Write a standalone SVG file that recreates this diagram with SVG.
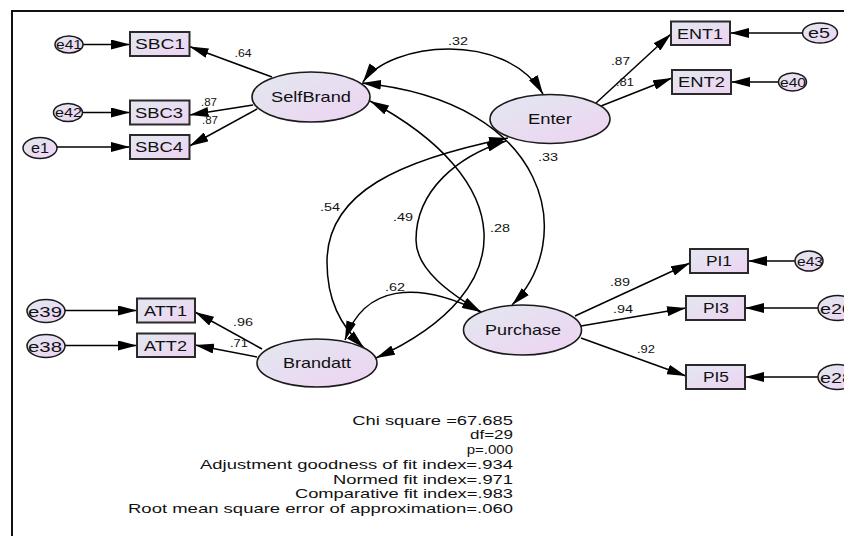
<svg xmlns="http://www.w3.org/2000/svg" width="844" height="536" viewBox="0 0 844 536">
  <defs>
    <linearGradient id="fillGrad" x1="0" y1="0" x2="1" y2="1">
      <stop offset="0" stop-color="#e2e8f0"/>
      <stop offset="1" stop-color="#eed3f2"/>
    </linearGradient>
    <marker id="arr" viewBox="0 0 19 10" refX="19" refY="5" markerWidth="19" markerHeight="10" markerUnits="userSpaceOnUse" orient="auto-start-reverse">
      <path d="M0,0 L19,5 L0,10 Z" fill="#000"/>
    </marker>
    <style>
      .latent { fill: url(#fillGrad); stroke: #1a1a1a; stroke-width: 1.6; }
      .obs { fill: url(#fillGrad); stroke: #2a2a2a; stroke-width: 2; }
      .err { fill: url(#fillGrad); stroke: #1a1a1a; stroke-width: 1.5; }
      .edge line, .edge path { fill: none; stroke: #000; stroke-width: 1.5; }
      .one { marker-end: url(#arr); }
      .two { marker-start: url(#arr); marker-end: url(#arr); }
      text { font-family: "Liberation Sans", Arial, sans-serif; fill: #111; }
      .nname { font-size: 14.5px; }
      .bname { font-size: 14px; }
      .coef { font-size: 11px; }
      .fit { font-size: 13.5px; }
      .frame { stroke: #111; stroke-width: 2; fill: none; }
    </style>
  </defs>

  <rect width="844" height="536" fill="#fff"/>
  <!-- frame: top and left edges -->
  <path class="frame" d="M12,536 L12,11 L844,11"/>

  <!-- connectors -->
  <g id="connectors" class="edge">
    <!-- error terms to indicators -->
    <line class="one" x1="83" y1="44.5" x2="130" y2="44.5"/>
    <line class="one" x1="82.5" y1="112.5" x2="130" y2="112.5"/>
    <line class="one" x1="57" y1="147" x2="130" y2="147"/>
    <line class="one" x1="802.5" y1="33" x2="730" y2="33"/>
    <line class="one" x1="778.5" y1="82" x2="731" y2="82"/>
    <line class="one" x1="65" y1="310.5" x2="137" y2="310.5"/>
    <line class="one" x1="65" y1="345.5" x2="137" y2="345.5"/>
    <line class="one" x1="795" y1="261" x2="748" y2="261"/>
    <line class="one" x1="818" y1="308" x2="745" y2="308"/>
    <line class="one" x1="818" y1="377" x2="745" y2="377"/>
    <!-- factor loadings -->
    <line class="one" x1="272" y1="77" x2="189.5" y2="46.5"/>
    <line class="one" x1="253" y1="105" x2="189.5" y2="115"/>
    <line class="one" x1="257" y1="109" x2="189.5" y2="146"/>
    <line class="one" x1="596" y1="103" x2="671" y2="34"/>
    <line class="one" x1="601" y1="106" x2="672" y2="78"/>
    <line class="one" x1="262" y1="349" x2="195" y2="312"/>
    <line class="one" x1="257" y1="357" x2="195" y2="345"/>
    <line class="one" x1="575" y1="316" x2="690" y2="263"/>
    <line class="one" x1="581" y1="326" x2="686" y2="308"/>
    <line class="one" x1="581" y1="338" x2="686" y2="376"/>
    <!-- covariances -->
    <path class="two" d="M363,82 C390,42 505,30 543,94"/>
    <path class="two" d="M362,83 C552,102 577,240 512,305"/>
    <path class="two" d="M370,101 C515,178.6 527,289 376,358"/>
    <path class="two" d="M508,138 C400,160 327,192 327,262 C327,300 340,325 364,348"/>
    <path class="two" d="M506,141 C458,156 416,190 416,240 C416,270 451,294 481,312"/>
    <path class="two" d="M481,312 C417,280 364,285 345,340"/>
  </g>

  <!-- coefficients -->
  <g id="coefficients">
    <text class="coef" x="234.5" y="56.5" textLength="17" lengthAdjust="spacingAndGlyphs">.64</text>
    <text class="coef" x="201" y="105.5" textLength="16" lengthAdjust="spacingAndGlyphs">.87</text>
    <text class="coef" x="202" y="124" textLength="16" lengthAdjust="spacingAndGlyphs">.87</text>
    <text class="coef" x="448" y="44.5" textLength="20" lengthAdjust="spacingAndGlyphs">.32</text>
    <text class="coef" x="611" y="64.5" textLength="19" lengthAdjust="spacingAndGlyphs">.87</text>
    <text class="coef" x="616" y="85.5" textLength="18" lengthAdjust="spacingAndGlyphs">.81</text>
    <text class="coef" x="538" y="160.5" textLength="20" lengthAdjust="spacingAndGlyphs">.33</text>
    <text class="coef" x="320" y="210.5" textLength="20" lengthAdjust="spacingAndGlyphs">.54</text>
    <text class="coef" x="393" y="220.5" textLength="20" lengthAdjust="spacingAndGlyphs">.49</text>
    <text class="coef" x="490" y="231.5" textLength="20" lengthAdjust="spacingAndGlyphs">.28</text>
    <text class="coef" x="385" y="291" textLength="20" lengthAdjust="spacingAndGlyphs">.62</text>
    <text class="coef" x="233" y="325.5" textLength="20" lengthAdjust="spacingAndGlyphs">.96</text>
    <text class="coef" x="230" y="346.5" textLength="18" lengthAdjust="spacingAndGlyphs">.71</text>
    <text class="coef" x="610" y="285.5" textLength="20" lengthAdjust="spacingAndGlyphs">.89</text>
    <text class="coef" x="613" y="312.5" textLength="20" lengthAdjust="spacingAndGlyphs">.94</text>
    <text class="coef" x="637" y="352.5" textLength="18" lengthAdjust="spacingAndGlyphs">.92</text>
  </g>

  <!-- latent variables -->
  <g id="SelfBrand">
    <ellipse class="latent" cx="311" cy="97" rx="59" ry="25"/>
    <text class="nname" x="271" y="102" textLength="80" lengthAdjust="spacingAndGlyphs">SelfBrand</text>
  </g>
  <g id="Enter">
    <ellipse class="latent" cx="550" cy="119" rx="60" ry="24.5"/>
    <text class="nname" x="528" y="124" textLength="44" lengthAdjust="spacingAndGlyphs">Enter</text>
  </g>
  <g id="Brandatt">
    <ellipse class="latent" cx="317" cy="363" rx="60" ry="24"/>
    <text class="nname" x="283" y="368" textLength="68" lengthAdjust="spacingAndGlyphs">Brandatt</text>
  </g>
  <g id="Purchase">
    <ellipse class="latent" cx="522.5" cy="330" rx="59" ry="25"/>
    <text class="nname" x="485" y="335" textLength="76" lengthAdjust="spacingAndGlyphs">Purchase</text>
  </g>

  <!-- observed indicators -->
  <g id="SBC1">
    <rect class="obs" x="130" y="32" width="59.5" height="24"/>
    <text class="bname" x="135" y="49" textLength="50" lengthAdjust="spacingAndGlyphs">SBC1</text>
  </g>
  <g id="SBC3">
    <rect class="obs" x="130" y="100.5" width="59.5" height="24"/>
    <text class="bname" x="135" y="117.5" textLength="48" lengthAdjust="spacingAndGlyphs">SBC3</text>
  </g>
  <g id="SBC4">
    <rect class="obs" x="130" y="135" width="59.5" height="24"/>
    <text class="bname" x="135" y="152" textLength="48" lengthAdjust="spacingAndGlyphs">SBC4</text>
  </g>
  <g id="ENT1">
    <rect class="obs" x="671" y="21.5" width="59" height="23.5"/>
    <text class="bname" x="677" y="38.5" textLength="46" lengthAdjust="spacingAndGlyphs">ENT1</text>
  </g>
  <g id="ENT2">
    <rect class="obs" x="672" y="70" width="59" height="24"/>
    <text class="bname" x="678" y="87" textLength="47" lengthAdjust="spacingAndGlyphs">ENT2</text>
  </g>
  <g id="ATT1">
    <rect class="obs" x="137" y="298.5" width="58" height="24"/>
    <text class="bname" x="144" y="315.5" textLength="43" lengthAdjust="spacingAndGlyphs">ATT1</text>
  </g>
  <g id="ATT2">
    <rect class="obs" x="137" y="333.5" width="58" height="23.5"/>
    <text class="bname" x="144" y="350.5" textLength="43" lengthAdjust="spacingAndGlyphs">ATT2</text>
  </g>
  <g id="PI1">
    <rect class="obs" x="690" y="249" width="58" height="24"/>
    <text class="bname" x="706" y="266" textLength="26" lengthAdjust="spacingAndGlyphs">PI1</text>
  </g>
  <g id="PI3">
    <rect class="obs" x="686" y="296" width="59" height="24"/>
    <text class="bname" x="703" y="313" textLength="26" lengthAdjust="spacingAndGlyphs">PI3</text>
  </g>
  <g id="PI5">
    <rect class="obs" x="686" y="365" width="59" height="24"/>
    <text class="bname" x="703" y="382" textLength="26" lengthAdjust="spacingAndGlyphs">PI5</text>
  </g>

  <!-- error terms -->
  <g id="e41">
    <ellipse class="err" cx="69" cy="44.5" rx="14" ry="8.5"/>
    <text x="56" y="49" font-size="12.5" textLength="26" lengthAdjust="spacingAndGlyphs">e41</text>
  </g>
  <g id="e42">
    <ellipse class="err" cx="68" cy="112.5" rx="14.5" ry="9"/>
    <text x="55" y="117" font-size="12.5" textLength="27" lengthAdjust="spacingAndGlyphs">e42</text>
  </g>
  <g id="e1">
    <ellipse class="err" cx="40" cy="148" rx="17" ry="10.5"/>
    <text x="31" y="153" font-size="14" textLength="18" lengthAdjust="spacingAndGlyphs">e1</text>
  </g>
  <g id="e5">
    <ellipse class="err" cx="820" cy="33" rx="17.5" ry="10"/>
    <text x="808" y="38" font-size="14" textLength="22" lengthAdjust="spacingAndGlyphs">e5</text>
  </g>
  <g id="e40">
    <ellipse class="err" cx="792.5" cy="82" rx="14" ry="9"/>
    <text x="780" y="86.5" font-size="12.5" textLength="26" lengthAdjust="spacingAndGlyphs">e40</text>
  </g>
  <g id="e39">
    <ellipse class="err" cx="46" cy="311" rx="19" ry="11.5"/>
    <text x="28" y="316.5" font-size="15" textLength="34" lengthAdjust="spacingAndGlyphs">e39</text>
  </g>
  <g id="e38">
    <ellipse class="err" cx="46" cy="346" rx="19" ry="11.5"/>
    <text x="28" y="351.5" font-size="15" textLength="34" lengthAdjust="spacingAndGlyphs">e38</text>
  </g>
  <g id="e43">
    <ellipse class="err" cx="809" cy="261" rx="14" ry="10"/>
    <text x="797" y="265.5" font-size="12.5" textLength="26" lengthAdjust="spacingAndGlyphs">e43</text>
  </g>
  <g id="e20">
    <ellipse class="err" cx="837.5" cy="308" rx="19.5" ry="12.5"/>
    <text x="820" y="313.5" font-size="15" textLength="33" lengthAdjust="spacingAndGlyphs">e20</text>
  </g>
  <g id="e28">
    <ellipse class="err" cx="837.5" cy="377" rx="19.5" ry="12.5"/>
    <text x="820" y="382.5" font-size="15" textLength="33" lengthAdjust="spacingAndGlyphs">e28</text>
  </g>

  <!-- fit statistics -->
  <g id="fit-stats">
    <text class="fit" x="352.3" y="424.5" textLength="160.7" lengthAdjust="spacingAndGlyphs">Chi square =67.685</text>
    <text class="fit" x="470" y="439.3" textLength="43" lengthAdjust="spacingAndGlyphs">df=29</text>
    <text class="fit" x="466.7" y="454" textLength="46.3" lengthAdjust="spacingAndGlyphs">p=.000</text>
    <text class="fit" x="200" y="468.8" textLength="313" lengthAdjust="spacingAndGlyphs">Adjustment goodness of fit index=.934</text>
    <text class="fit" x="333" y="483.5" textLength="180" lengthAdjust="spacingAndGlyphs">Normed fit index=.971</text>
    <text class="fit" x="295" y="498.3" textLength="218" lengthAdjust="spacingAndGlyphs">Comparative fit index=.983</text>
    <text class="fit" x="128" y="513" textLength="385" lengthAdjust="spacingAndGlyphs">Root mean square error of approximation=.060</text>
  </g>
</svg>
